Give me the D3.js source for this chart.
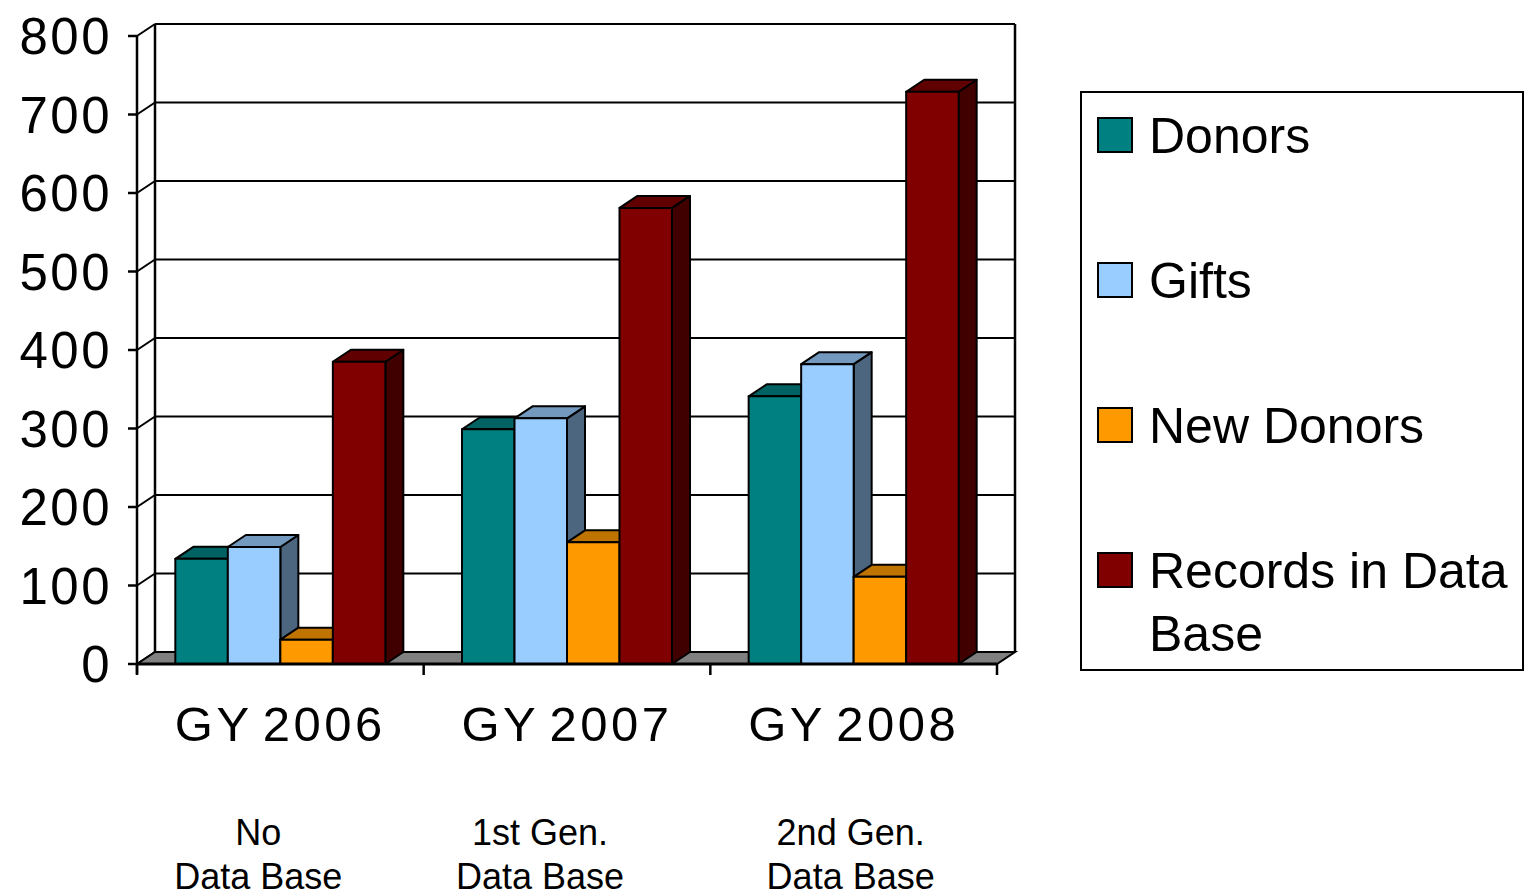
<!DOCTYPE html>
<html>
<head>
<meta charset="utf-8">
<script src="https://cdn.jsdelivr.net/npm/d3@7"></script>
<style>
  body { margin: 0; background: #fff; }
  svg text { font-family: "Liberation Sans", Arial, sans-serif; fill: #000; }
</style>
</head>
<body>
<svg id="chart" width="1524" height="894"></svg>
<script>
const years = ["GY 2006", "GY 2007", "GY 2008"];
const subLabels = [["No", "Data Base"], ["1st Gen.", "Data Base"], ["2nd Gen.", "Data Base"]];
const series = ["Donors", "Gifts", "New Donors", "Records in Data Base"];
const donors = [134, 299, 341];
const gifts = [149, 313, 382];
const newDonors = [31, 155, 111];
const records = [385, 581, 729];
const yTicks = [0, 100, 200, 300, 400, 500, 600, 700, 800];

const faceColors = ["#008080", "#99ccff", "#ff9900", "#800000"];
const topColors = ["#006262", "#7399bf", "#bf7300", "#600000"];
const sideColors = ["#004d4d", "#4d6680", "#804d00", "#400000"];
const subShift = [-22, -27, -3];

const values = [donors, gifts, newDonors, records];

const svg = d3.select("#chart");

// 3d offsets
const dx = 18, dy = -12;

const y = d3.scaleLinear().domain([0, 800]).range([664, 36]);
const x0 = d3.scaleBand().domain(years).range([137, 997]);
const x1 = d3.scaleBand().domain(series).range([0, x0.bandwidth()]).paddingOuter(0.73);

const xl = x0.range()[0], xr = x0.range()[1];
const y0 = y(0);

// back wall + grid
const grid = svg.append("g");
grid.selectAll("line.back")
  .data(yTicks)
  .join("line")
  .attr("x1", xl + dx).attr("x2", xr + dx)
  .attr("y1", d => y(d) + dy).attr("y2", d => y(d) + dy)
  .attr("stroke", "#000").attr("stroke-width", 2);
// left wall diagonals
grid.selectAll("line.side")
  .data(yTicks)
  .join("line")
  .attr("x1", xl).attr("x2", xl + dx)
  .attr("y1", d => y(d)).attr("y2", d => y(d) + dy)
  .attr("stroke", "#000").attr("stroke-width", 2);
grid.append("line")
  .attr("x1", xl + dx).attr("x2", xl + dx)
  .attr("y1", y(800) + dy).attr("y2", y0 + dy)
  .attr("stroke", "#000").attr("stroke-width", 2.5);
grid.append("line")
  .attr("x1", xr + dx).attr("x2", xr + dx)
  .attr("y1", y(800) + dy).attr("y2", y0 + dy)
  .attr("stroke", "#000").attr("stroke-width", 2.5);

// floor
svg.append("path")
  .attr("d", `M${xl},${y0}L${xr},${y0}L${xr + dx},${y0 + dy}L${xl + dx},${y0 + dy}Z`)
  .attr("fill", "#808080").attr("stroke", "#000").attr("stroke-width", 2);

// bars
const bars = [];
years.forEach((yr, gi) => {
  series.forEach((s, si) => {
    bars.push({ yr, s, si, v: values[si][gi] });
  });
});

const bw = x1.bandwidth();
const barG = svg.append("g")
  .selectAll("g")
  .data(bars)
  .join("g")
  .attr("stroke", "#000")
  .attr("stroke-width", 2)
  .attr("stroke-linejoin", "round");

barG.append("path") // side
  .attr("fill", d => sideColors[d.si])
  .attr("d", d => {
    const xa = x0(d.yr) + x1(d.s) + bw, yt = y(d.v);
    return `M${xa},${y0}L${xa + dx},${y0 + dy}L${xa + dx},${yt + dy}L${xa},${yt}Z`;
  });
barG.append("path") // top
  .attr("fill", d => topColors[d.si])
  .attr("d", d => {
    const xa = x0(d.yr) + x1(d.s), yt = y(d.v);
    return `M${xa},${yt}L${xa + dx},${yt + dy}L${xa + bw + dx},${yt + dy}L${xa + bw},${yt}Z`;
  });
barG.append("rect") // front
  .attr("fill", d => faceColors[d.si])
  .attr("x", d => x0(d.yr) + x1(d.s))
  .attr("y", d => y(d.v))
  .attr("width", bw)
  .attr("height", d => y0 - y(d.v));

// front value axis
const axisG = svg.append("g");
axisG.append("line")
  .attr("x1", xl).attr("x2", xl).attr("y1", y(800)).attr("y2", y0 + 10)
  .attr("stroke", "#000").attr("stroke-width", 2.5);
axisG.selectAll("line.tick")
  .data(yTicks)
  .join("line")
  .attr("x1", xl - 9).attr("x2", xl)
  .attr("y1", d => y(d)).attr("y2", d => y(d))
  .attr("stroke", "#000").attr("stroke-width", 2.5);
axisG.selectAll("text")
  .data(yTicks)
  .join("text")
  .attr("x", 112)
  .attr("y", d => y(d))
  .attr("dy", "0.36em")
  .attr("text-anchor", "end")
  .attr("font-size", 51)
  .attr("letter-spacing", 2.5)
  .text(d => d);

// category axis
axisG.append("line")
  .attr("x1", xl).attr("x2", xr).attr("y1", y0).attr("y2", y0)
  .attr("stroke", "#000").attr("stroke-width", 3);
axisG.selectAll("line.cat")
  .data([...years.map(d => x0(d)), xr])
  .join("line")
  .attr("x1", d => d).attr("x2", d => d)
  .attr("y1", y0).attr("y2", y0 + 11)
  .attr("stroke", "#000").attr("stroke-width", 2.5);
axisG.selectAll("text.cat")
  .data(years)
  .join("text")
  .attr("x", d => x0(d) + x0.bandwidth() / 2)
  .attr("y", 741)
  .attr("text-anchor", "middle")
  .attr("font-size", 49)
  .attr("letter-spacing", 3.5)
  .attr("word-spacing", -6)
  .text(d => d);

const sub = svg.append("g")
  .selectAll("text")
  .data(subLabels)
  .join("text")
  .attr("x", (d, i) => x0(years[i]) + x0.bandwidth() / 2 + subShift[i])
  .attr("y", 845)
  .attr("text-anchor", "middle")
  .attr("font-size", 36);
sub.selectAll("tspan")
  .data(d => d)
  .join("tspan")
  .attr("x", function () { return this.parentNode.getAttribute("x"); })
  .attr("dy", (d, i) => i ? 44 : 0)
  .text(d => d);

// legend
const legend = svg.append("g");
legend.append("rect")
  .attr("x", 1081).attr("y", 92).attr("width", 442).attr("height", 578)
  .attr("fill", "#fff").attr("stroke", "#000").attr("stroke-width", 2);
const ly = d3.scalePoint().domain(series).range([135, 570]);
const li = legend.selectAll("g.item")
  .data(series)
  .join("g")
  .attr("transform", d => `translate(1098,${ly(d)})`);
li.append("rect")
  .attr("x", 0).attr("y", -17).attr("width", 34).attr("height", 34)
  .attr("fill", (d, i) => faceColors[i])
  .attr("stroke", "#000").attr("stroke-width", 2);
li.append("text")
  .attr("x", 51).attr("y", 18)
  .attr("font-size", 50)
  .selectAll("tspan")
  .data(d => d === "Records in Data Base" ? ["Records in Data", "Base"] : [d])
  .join("tspan")
  .attr("x", 51)
  .attr("dy", (d, i) => i ? 63 : 0)
  .text(d => d);
</script>
</body>
</html>
